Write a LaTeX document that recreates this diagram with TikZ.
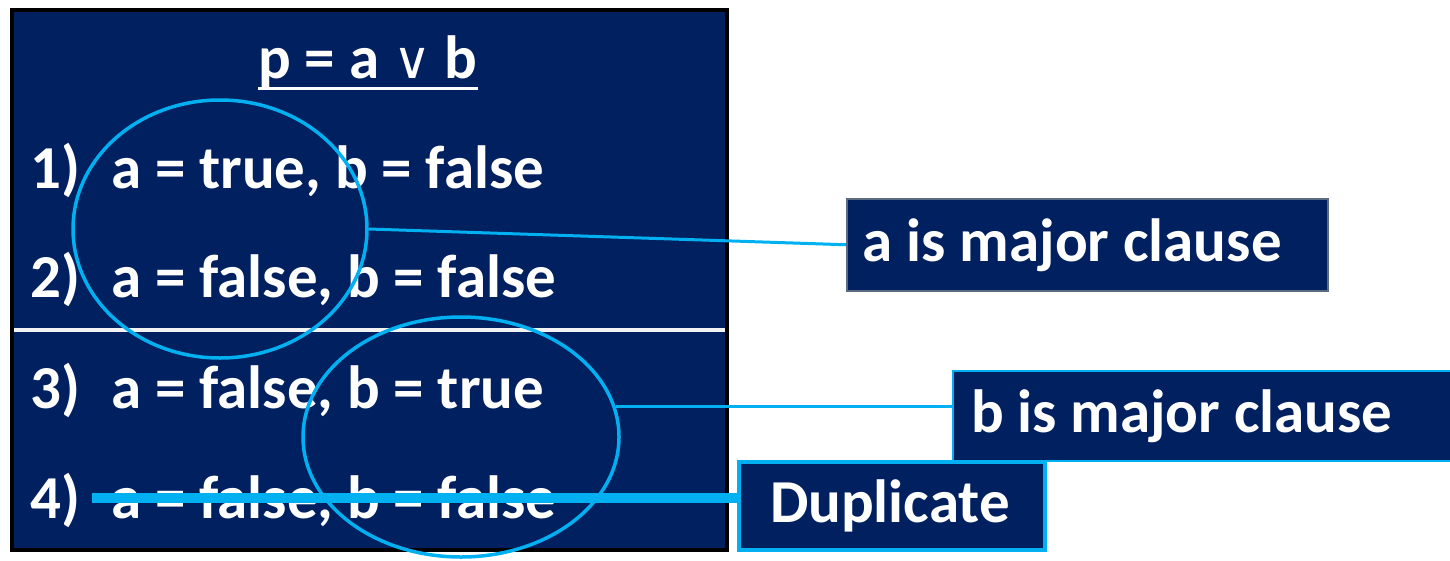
\documentclass[tikz,border=0pt]{standalone}
\usepackage{fontspec}
\setmainfont{Carlito}
\newfontfamily\symbfont{DejaVu Sans}
\usetikzlibrary{positioning,shapes.geometric}

\definecolor{navy}{HTML}{002060}
\definecolor{sky}{HTML}{00B0F0}
\definecolor{slate}{HTML}{5B6B80}

\tikzset{
  big/.style={font=\bfseries\fontsize{61}{68}\selectfont},
  rowtext/.style={big, text=white, anchor=base west, inner sep=0pt},
  clausebox/.style={big, fill=navy, text=white, anchor=north west, align=flush left},
  ring/.style={ellipse, draw=sky, line width=3.5pt},
  link/.style={draw=sky, line width=3pt}
}

\begin{document}
\begin{tikzpicture}[x=1pt,y=-1pt]
\useasboundingbox (0,0) rectangle (1450,560);

% the truth table panel
\draw[fill=navy, line width=4pt] (12,10) rectangle (727,550);
\draw[white!90!gray, line width=4pt] (14,330) -- (725,330);

\node[big, text=white, anchor=base, inner sep=0pt] (title) at (368,78)
  {p = a {\symbfont\mdseries\fontsize{52}{60}\selectfont ∨} b};
\draw[white, line width=3pt] ([yshift=-10pt]title.base west) -- ([yshift=-10pt]title.base east);

\node[rowtext] (r1) at (30,188) {1)\hspace{31pt}a = true, b = false};
\node[rowtext] (r2) at (30,297) {2)\hspace{31pt}a = false, b = false};
\node[rowtext] (r3) at (30,408) {3)\hspace{31pt}a = false, b = true};
\node[rowtext] (r4) at (30,518) {4)\hspace{31pt}a = false, b = false};

% rings round the pairs
\node[ring, minimum width=294pt, minimum height=258pt] (ca) at (220,229) {};
\node[ring, minimum width=316pt, minimum height=240pt] (cb) at (461,437) {};

% labels on the right
\node[clausebox, draw=slate, line width=1.5pt, minimum height=92pt,
      text width=449pt, inner xsep=16pt] (amaj) at (846,198) {a is major clause};
\node[clausebox, draw=sky, line width=2pt, minimum height=90pt,
      text width=480pt, inner xsep=18pt] (bmaj) at (952,370) {b is major clause};
\node[clausebox, draw=sky, line width=4pt, minimum height=88pt,
      text width=244pt, inner xsep=31pt] (dup) at (737,460) {Duplicate};

\coordinate (strike) at (92,498);

\draw[link] (ca.east) -- (amaj.west);
\draw[link] (cb.11) -- (cb.11 -| bmaj.west);
\draw[draw=sky, line width=10pt] (strike) -- (strike -| dup.west);
\end{tikzpicture}
\end{document}
